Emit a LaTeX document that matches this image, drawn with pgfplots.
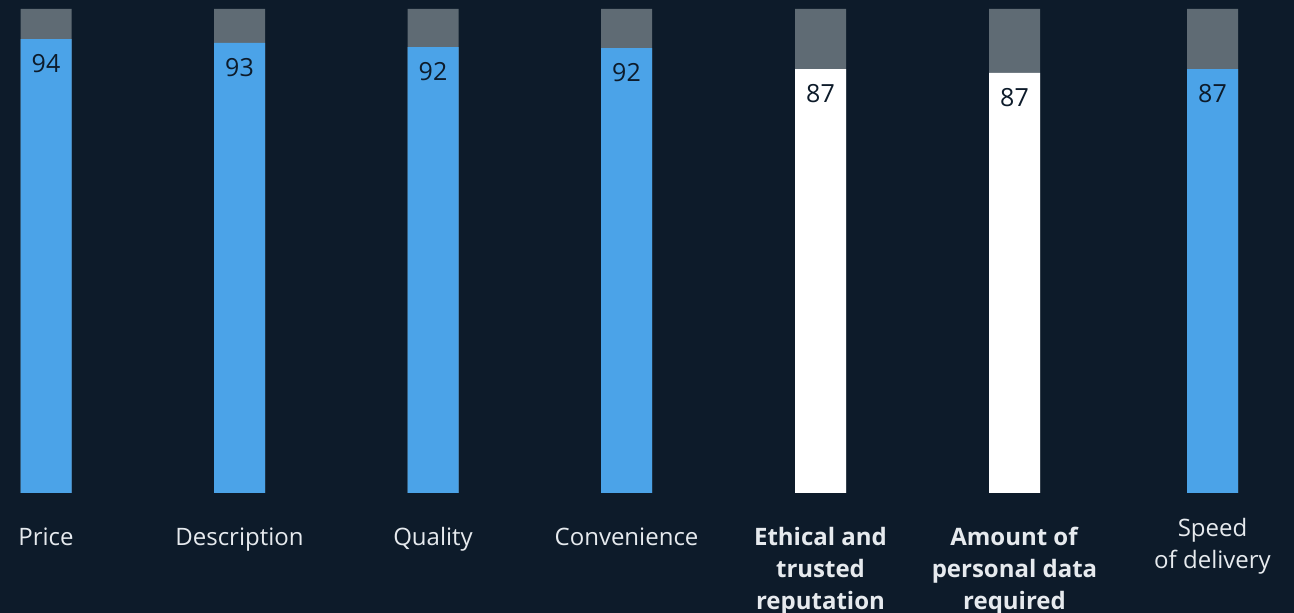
\documentclass[border=0pt]{standalone}
\usepackage{fontspec}
\setmainfont{Open Sans}
\usepackage{pgfplots}
\pgfplotsset{compat=1.18}
\definecolor{bg}{HTML}{0D1B2A}
\definecolor{bl}{HTML}{4BA3E8}
\definecolor{gy}{HTML}{5F6B74}
\definecolor{lbl}{HTML}{E6EAEE}
\begin{document}
\begin{tikzpicture}
\fill[bg] (0,0) rectangle (1294pt,613pt);
\begin{axis}[at={(0pt,120pt)}, anchor=south west, scale only axis,
  width=1294pt, height=484pt,
  xmin=0, xmax=1294, ymin=0, ymax=100,
  axis line style={draw=none}, major tick length=0pt,
  ytick=\empty, xtick={46,239.5,433,626.5,820.5,1014.5},
  xticklabels={Price, Description, Quality, Convenience,
    \textbf{Ethical and}\\\textbf{trusted}\\\textbf{reputation},
    \textbf{Amount of}\\\textbf{personal data}\\\textbf{required}},
  xticklabel style={font=\fontsize{24}{32}\selectfont, text=lbl, align=center, yshift=-31pt, anchor=north},
  extra x ticks={1212.5},
  extra x tick labels={Speed\\of delivery},
  extra x tick style={major tick length=0pt, xticklabel style={yshift=9pt}},
  clip=false,
  point meta=explicit symbolic,
  every node near coord/.style={font=\fontsize{25}{28}\selectfont, text=bg, anchor=north, yshift=-12pt},
]
\addplot[ybar, bar width=51pt, bar shift=0pt, fill=gy, draw=none] coordinates {(46,100)(239.5,100)(433,100)(626.5,100)(820.5,100)(1014.5,100)(1212.5,100)};
\addplot[ybar, bar width=51pt, bar shift=0pt, fill=bl, draw=none, nodes near coords] coordinates {(46,93.8)[94] (239.5,93.0)[93] (433,92.1)[92] (626.5,91.9)[92] (1212.5,87.6)[87]};
\addplot[ybar, bar width=51pt, bar shift=0pt, fill=white, draw=none, nodes near coords] coordinates {(820.5,87.6)[87] (1014.5,86.8)[87]};
\end{axis}
\pgfresetboundingbox
\useasboundingbox (0,0) rectangle (1294pt,613pt);
\end{tikzpicture}
\end{document}
